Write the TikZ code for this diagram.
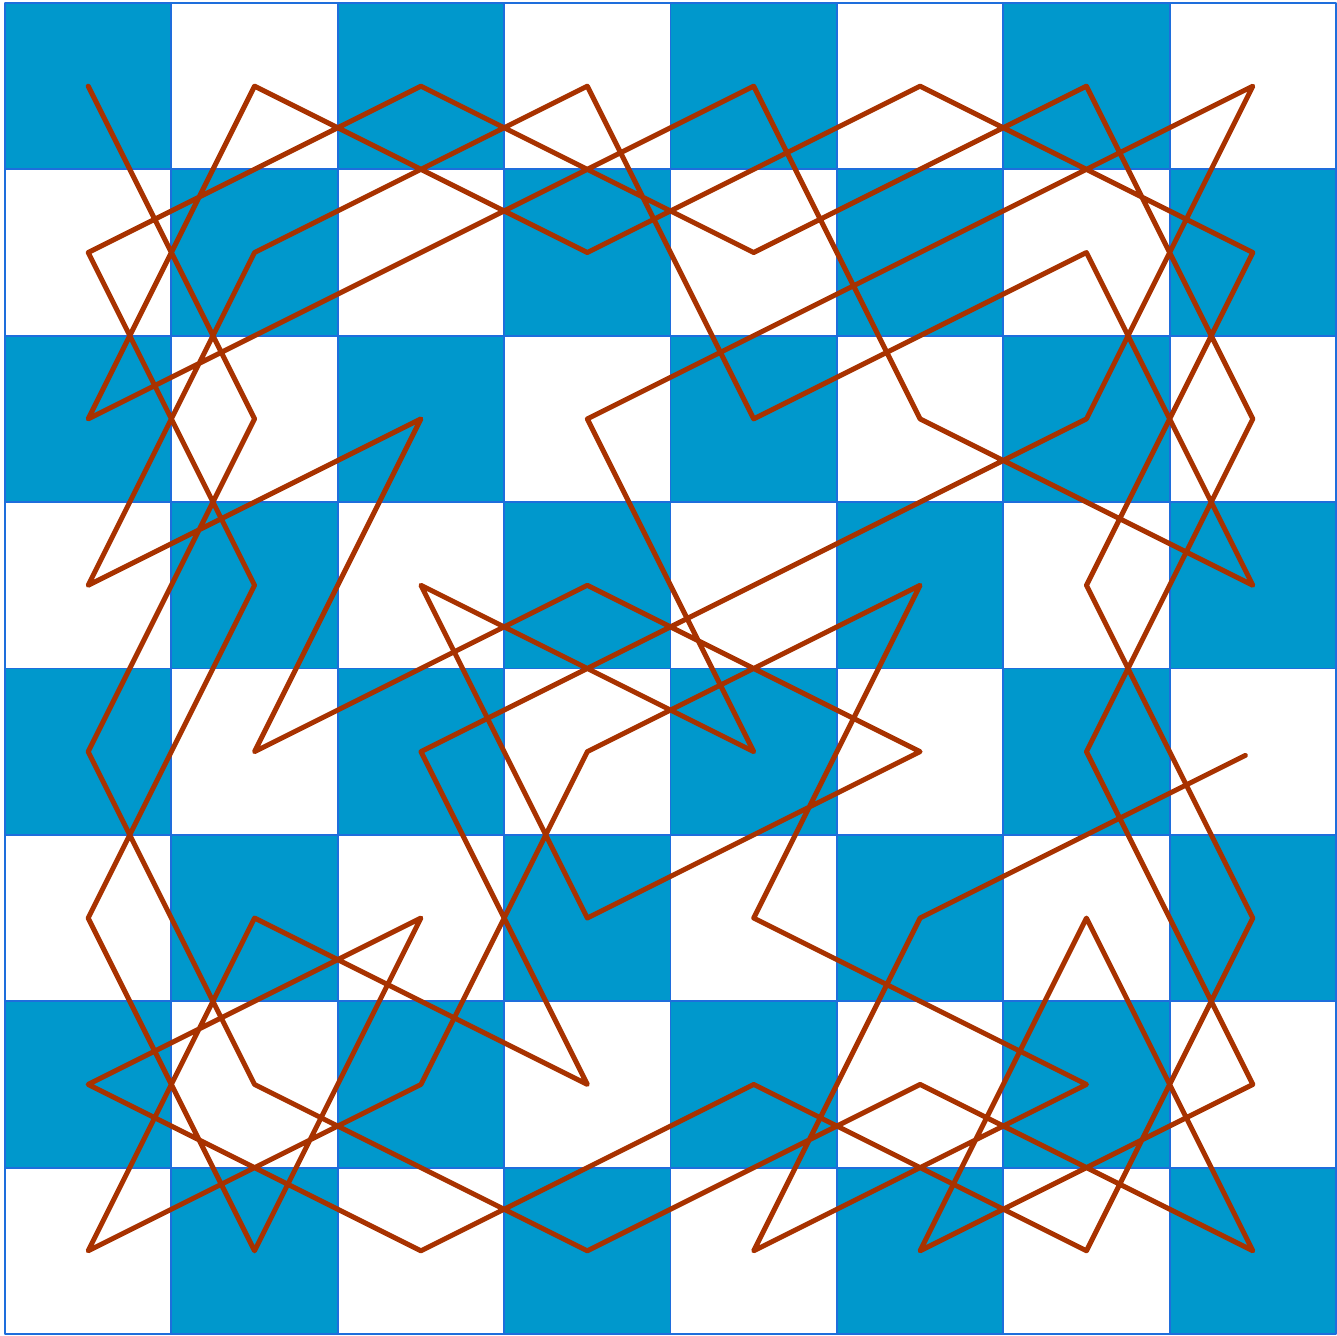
\documentclass[tikz,border=0pt]{standalone}
\usepackage{tikz}
\definecolor{boardblue}{RGB}{0,152,204}
\definecolor{gridblue}{RGB}{30,110,220}
\definecolor{tourred}{RGB}{168,50,0}
\tikzset{
  every picture/.style={line join=round, line cap=round},
  darksq/.style={fill=boardblue},
  gridline/.style={draw=gridblue, line width=0.3pt},
  tour/.style={draw=tourred, line width=0.85pt},
}

\begin{document}
\begin{tikzpicture}
\useasboundingbox (-0.03,-0.006) rectangle (8.006,8.018);
\foreach \c in {0,...,7}{\foreach \r in {0,...,7}{
  \pgfmathtruncatemacro{\p}{mod(\c+\r,2)}
  \ifnum\p=0 \fill[darksq] (\c,7-\r) rectangle ++(1,1); \fi
  \coordinate (s\c\r) at (\c+0.5,7.5-\r);
}}
\draw[gridline] (0,0) grid (8,8);
% knight's tour, column then row (row 0 on top)
\draw[tour,shorten >=0.05cm] (s00) -- (s12) -- (s04) -- (s16) -- (s37) -- (s56) -- (s77) -- (s65)
  -- (s57) -- (s76) -- (s64) -- (s72) -- (s60) -- (s41) -- (s20) -- (s01)
  -- (s13) -- (s05) -- (s17) -- (s25) -- (s06) -- (s27) -- (s46) -- (s67)
  -- (s75) -- (s63) -- (s71) -- (s50) -- (s31) -- (s10) -- (s02) -- (s21)
  -- (s40) -- (s52) -- (s73) -- (s61) -- (s42) -- (s30) -- (s11) -- (s03)
  -- (s22) -- (s14) -- (s33) -- (s54) -- (s35) -- (s23) -- (s44) -- (s32)
  -- (s51) -- (s70) -- (s62) -- (s43) -- (s24) -- (s36) -- (s15) -- (s07)
  -- (s26) -- (s34) -- (s53) -- (s45) -- (s66) -- (s47) -- (s55) -- (s74);
\end{tikzpicture}
\end{document}
